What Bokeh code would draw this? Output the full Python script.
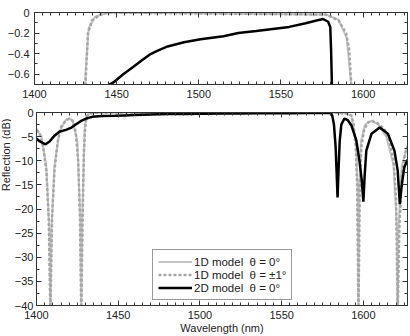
import math
from bokeh.plotting import figure
from bokeh.models import Range1d, FixedTicker, LinearAxis, Legend, LegendItem
from bokeh.layouts import column, row
from bokeh.embed import file_html
from bokeh.resources import INLINE

# ---- data (wavelength nm, reflection dB) ----
wl_2d = [1400, 1402, 1405.5, 1408, 1411, 1414, 1418, 1421, 1424, 1427, 1430, 1434, 1440,
         1448, 1454, 1460, 1465, 1470, 1475, 1481, 1491, 1501, 1515, 1524, 1535, 1545, 1555,
         1565, 1571, 1575.6, 1578.7, 1580, 1580.5, 1581, 1582, 1583, 1583.7, 1584.2, 1584.8,
         1585.5, 1586.5, 1588.4, 1590.5, 1592.7, 1595.7, 1597.6, 1599, 1600, 1600.8, 1601.8,
         1605, 1610, 1615, 1619, 1621, 1622.3, 1623.5, 1625, 1627]
r_2d = [-5.4, -6.0, -6.6, -6.0, -4.8, -4.0, -3.6, -3.2, -2.5, -1.8, -1.3, -0.9, -0.75,
        -0.68, -0.6, -0.53, -0.47, -0.41, -0.37, -0.33, -0.29, -0.26, -0.23, -0.20, -0.18,
        -0.16, -0.14, -0.105, -0.08, -0.063, -0.09, -0.14, -0.37, -0.7, -2.5, -7.0, -13.0,
        -17.6, -12.0, -6.0, -2.5, -1.25, -1.6, -2.7, -5.8, -10.0, -14.0, -18.5, -13.0, -7.9,
        -4.4, -3.1, -4.4, -7.9, -12.0, -19.0, -15.0, -11.4, -9.8]

wl_1d_pm1 = [1400, 1402, 1404, 1406, 1407.5, 1408.5, 1409.5, 1411, 1413, 1415, 1418, 1420,
             1422, 1424, 1425.5, 1426.6, 1427.4, 1428.2, 1429, 1430, 1431, 1432.5, 1435, 1440,
             1445, 1577.5, 1585, 1589.6, 1591.5, 1592.7, 1594, 1595.3, 1596.2, 1597, 1597.8,
             1598.8, 1600.5, 1603, 1605, 1607.5, 1610, 1613, 1616, 1618.5, 1620, 1621, 1622,
             1623.5, 1625.5, 1627]
r_1d_pm1 = [-3.6, -4.5, -7.0, -12.0, -22.0, -42.0, -22.0, -12.0, -6.0, -3.0, -1.6, -1.3,
            -1.7, -4.0, -10.0, -22.0, -42.0, -22.0, -8.0, -2.0, -0.7, -0.2, -0.077, -0.02,
            0.0, -0.02, -0.077, -0.2, -0.36, -0.68, -2.5, -7.0, -15.0, -42.0, -15.0,
            -7.0, -3.5, -2.0, -1.8, -2.0, -2.6, -3.5, -6.0, -10.0, -18.0, -42.0, -24.0,
            -13.0, -8.5, -7.0]

wl_1d_0 = [1400, 1403, 1406, 1407.8, 1408.5, 1409.2, 1411, 1414, 1418, 1420, 1422, 1425,
           1426.8, 1427.4, 1428.0, 1429.5, 1431, 1433, 1437, 1445, 1577.5, 1585, 1590,
           1592.7, 1595.5, 1596.5, 1597, 1597.5, 1598.5, 1601, 1605, 1609, 1614, 1618.5,
           1620.5, 1621, 1621.5, 1623.5, 1627]
r_1d_0 = [-3.4, -5.0, -11.0, -24.0, -42.0, -24.0, -11.0, -4.0, -1.5, -1.2, -1.6, -6.0,
          -22.0, -42.0, -22.0, -3.0, -0.6, -0.15, -0.04, 0.0, -0.02, -0.07, -0.25,
          -0.7, -6.0, -16.0, -42.0, -16.0, -6.0, -2.5, -1.7, -2.4, -5.0, -11.0,
          -24.0, -42.0, -24.0, -11.0, -7.0]

x_major = [1400, 1450, 1500, 1550, 1600]
x_minor = list(range(1400, 1630, 5))
top_y_major = [0, -0.2, -0.4, -0.6]
top_y_minor = [0, -0.1, -0.2, -0.3, -0.4, -0.5, -0.6, -0.7]
bot_y_major = [0, -5, -10, -15, -20, -25, -30, -35, -40]
bot_y_minor = [-2.5 * i for i in range(17)]

x_title = "Wavelength (nm)"
y_title = "Reflection (dB)"
legend_labels = ["1D model  θ = 0°", "1D model  θ = ±1°", "2D model  θ = 0°"]

FONT = "Liberation Sans"
TXT = "#222222"
FS = "11px"
C_SOLID = "#c4c4c4"
C_DASH = "#a6a6a6"
C_BLACK = "#000000"
LBL_W = 11          # width of the strip that carries the y-axis title


def style_axis(ax, labels=True):
    ax.major_tick_in = 5
    ax.major_tick_out = 0
    ax.minor_tick_in = 3
    ax.minor_tick_out = 0
    ax.axis_line_color = "#333333"
    ax.major_tick_line_color = "#333333"
    ax.minor_tick_line_color = "#333333"
    ax.major_label_text_font = FONT
    ax.axis_label_text_font = FONT
    ax.axis_label_text_font_size = FS
    ax.axis_label_text_font_style = "normal"
    ax.axis_label_text_color = TXT
    if labels:
        ax.major_label_text_color = TXT
        ax.major_label_text_font_size = FS
        ax.major_label_standoff = 5
    else:
        ax.major_label_text_color = None
        ax.major_label_text_font_size = "0px"
        ax.major_label_standoff = 0


def make_fig(width, left, height, top, bottom, yr, ymaj, ymin):
    p = figure(width=width, height=height, output_backend="svg", toolbar_location=None,
               x_range=Range1d(1400, 1627), y_range=yr,
               min_border_left=left, min_border_right=3,
               min_border_top=top, min_border_bottom=bottom)
    p.grid.visible = False
    p.outline_line_color = "#333333"
    p.background_fill_color = "white"
    p.border_fill_color = "white"
    xb = p.xaxis[0]
    yl = p.yaxis[0]
    xb.ticker = FixedTicker(ticks=x_major, minor_ticks=x_minor)
    yl.ticker = FixedTicker(ticks=ymaj, minor_ticks=ymin)
    style_axis(xb)
    style_axis(yl)
    ax_top = LinearAxis(ticker=FixedTicker(ticks=x_major, minor_ticks=x_minor))
    style_axis(ax_top, labels=False)
    p.add_layout(ax_top, "above")
    ax_r = LinearAxis(ticker=FixedTicker(ticks=ymaj, minor_ticks=ymin))
    style_axis(ax_r, labels=False)
    p.add_layout(ax_r, "right")
    return p, xb, yl


top, _, _ = make_fig(410, 34, 104, 12, 20, Range1d(-0.7, 0), top_y_major, top_y_minor)
top.line(wl_1d_0, r_1d_0, line_color=C_SOLID, line_width=2)
top.line(wl_1d_pm1, r_1d_pm1, line_color=C_DASH, line_width=2.5, line_dash="3 2")
top.line(wl_2d, r_2d, line_color=C_BLACK, line_width=2.5)

bot, bx, by = make_fig(410 - LBL_W, 34 - LBL_W, 232, 8, 31, Range1d(-40, 0),
                       bot_y_major, bot_y_minor)
l1 = bot.line(wl_1d_0, r_1d_0, line_color=C_SOLID, line_width=2)
l2 = bot.line(wl_1d_pm1, r_1d_pm1, line_color=C_DASH, line_width=2.5, line_dash="3 2")
l3 = bot.line(wl_2d, r_2d, line_color=C_BLACK, line_width=2.5)
bx.axis_label = x_title
bx.axis_label_standoff = 0
by.major_label_standoff = 3

legend = Legend(items=[
    LegendItem(label=legend_labels[0], renderers=[l1]),
    LegendItem(label=legend_labels[1], renderers=[l2]),
    LegendItem(label=legend_labels[2], renderers=[l3]),
], location=(116, 5))
legend.label_text_font = FONT
legend.label_text_font_size = "11.5px"
legend.label_text_color = TXT
legend.glyph_width = 34
legend.glyph_height = 13
legend.label_height = 13
legend.label_standoff = 2
legend.padding = 5
legend.spacing = 0
legend.margin = 0
legend.border_line_color = "#333333"
legend.border_line_width = 1
legend.background_fill_color = "white"
legend.background_fill_alpha = 1
bot.add_layout(legend, "center")

# narrow strip left of the lower panel carrying the y-axis title
ylab = figure(width=LBL_W, height=232, output_backend="svg", toolbar_location=None,
              x_range=Range1d(0, LBL_W), y_range=Range1d(0, 232),
              min_border_left=0, min_border_right=0,
              min_border_top=0, min_border_bottom=0)
ylab.axis.visible = False
ylab.grid.visible = False
ylab.outline_line_color = None
ylab.text(x=[LBL_W / 2], y=[181], text=[y_title], angle=math.pi / 2, text_align="center",
          text_baseline="middle", text_font_size=FS, text_color=TXT,
          text_font={"value": FONT})

layout = column(top, row(ylab, bot))
open("out.html", "w").write(file_html(layout, INLINE))
